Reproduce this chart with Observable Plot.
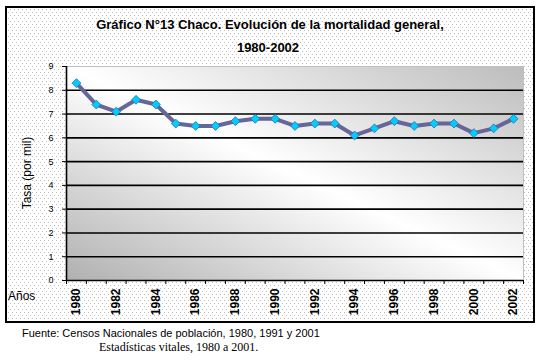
<!DOCTYPE html>
<html><head><meta charset="utf-8">
<script src="https://cdn.jsdelivr.net/npm/d3@7"></script>
<script src="https://cdn.jsdelivr.net/npm/@observablehq/plot@0.6"></script>
<style>body{margin:0;background:#fff}</style>
</head><body><div id="chart"></div>
<script>
const years = [1980,1981,1982,1983,1984,1985,1986,1987,1988,1989,1990,1991,1992,1993,1994,1995,1996,1997,1998,1999,2000,2001,2002];
const rates = [8.3,7.4,7.1,7.6,7.4,6.6,6.5,6.5,6.7,6.8,6.8,6.5,6.6,6.6,6.1,6.4,6.7,6.5,6.6,6.6,6.2,6.4,6.8];
const yTicks = [0,1,2,3,4,5,6,7,8,9];
const xLabelYears = [1980,1982,1984,1986,1988,1990,1992,1994,1996,1998,2000,2002];
const title1 = "Gráfico N°13 Chaco. Evolución de la mortalidad general,";
const title2 = "1980-2002";
const yLabel = "Tasa (por mil)";
const xLabel = "Años";
const source1 = "Fuente: Censos Nacionales de población, 1980, 1991 y 2001";
const source2 = "Estadísticas vitales, 1980 a 2001.";

const data = years.map((y, i) => ({year: y, rate: rates[i]}));
const boundaries = years.map(y => y - 0.5).concat([years[years.length - 1] + 0.5]);

const plot = Plot.plot({
  width: 544, height: 362,
  marginLeft: 66, marginRight: 21, marginTop: 66, marginBottom: 82,
  style: {fontFamily: "Arial, 'Liberation Sans', sans-serif", background: "transparent", overflow: "visible"},
  x: {type: "linear", domain: [boundaries[0], boundaries[boundaries.length - 1]]},
  y: {domain: [0, 9]},
  marks: [
    Plot.frame({fill: "url(#plotGrad)", stroke: "#c0c0c0"}),
    Plot.ruleY(yTicks.slice(1, -1), {stroke: "black", strokeWidth: 1.6}),
    Plot.axisY({ticks: yTicks, tickSize: 4, tickPadding: 9, fontSize: 9, label: null, tickFormat: d => String(d)}),
    Plot.axisX({ticks: boundaries, tickFormat: () => "", tickSize: 4, label: null}),
    Plot.axisX({ticks: xLabelYears, tickFormat: d => String(d), tickSize: 0, tickPadding: 8, tickRotate: -90, fontSize: 12, fontWeight: "bold", label: null}),
    Plot.ruleY([0], {stroke: "black", strokeWidth: 1.6}),
    Plot.ruleX([boundaries[0]], {stroke: "black", strokeWidth: 1.6}),
    Plot.line(data, {x: "year", y: "rate", stroke: "#666699", strokeWidth: 4}),
    Plot.dot(data, {x: "year", y: "rate", symbol: "diamond2", r: 4, fill: "#00ccff", stroke: "#2a6fa8", strokeWidth: 0.8})
  ]
});

const NS = "http://www.w3.org/2000/svg";
const svg = d3.select(plot);
const bg = document.createElementNS(NS, "rect");
plot.insertBefore(bg, plot.firstChild);
d3.select(bg).attr("x", 6).attr("y", 7).attr("width", 528).attr("height", 315)
  .attr("fill", "url(#dots)").attr("stroke", "none");
const defs = document.createElementNS(NS, "defs");
plot.insertBefore(defs, plot.firstChild);
const D = d3.select(defs);
const pat = D.append("pattern").attr("id", "dots").attr("patternUnits", "userSpaceOnUse")
  .attr("width", 4).attr("height", 6);
pat.append("rect").attr("width", 4).attr("height", 6).attr("fill", "#ffffff");
pat.append("rect").attr("x", 0).attr("y", 0).attr("width", 1).attr("height", 1).attr("fill", "#bdbdbd");
pat.append("rect").attr("x", 2).attr("y", 3).attr("width", 1).attr("height", 1).attr("fill", "#bdbdbd");
const grad = D.append("linearGradient").attr("id", "plotGrad")
  .attr("x1", 0).attr("y1", 1).attr("x2", 1).attr("y2", 0);
grad.append("stop").attr("offset", 0).attr("stop-color", "#b0b0b0");
grad.append("stop").attr("offset", 0.5).attr("stop-color", "#ffffff");
grad.append("stop").attr("offset", 1).attr("stop-color", "#bcbcbc");

svg.append("rect").attr("x", 6).attr("y", 7).attr("width", 528).attr("height", 315)
  .attr("fill", "none").attr("stroke", "black").attr("stroke-width", 2);

const t = svg.append("g").attr("font-family", "Arial, 'Liberation Sans', sans-serif")
  .attr("fill", "black").attr("text-anchor", "start");
t.append("text").attr("x", 270).attr("y", 29).attr("text-anchor", "middle")
  .attr("font-size", 13).attr("font-weight", "bold").text(title1);
t.append("text").attr("x", 268).attr("y", 52).attr("text-anchor", "middle")
  .attr("font-size", 13).attr("font-weight", "bold").text(title2);
t.append("text").attr("transform", "translate(31,173) rotate(-90)").attr("text-anchor", "middle")
  .attr("font-size", 12).text(yLabel);
t.append("text").attr("x", 8).attr("y", 300).attr("font-size", 12).text(xLabel);
t.append("text").attr("x", 22).attr("y", 337).attr("font-size", 11).text(source1);
t.append("text").attr("x", 99).attr("y", 351).attr("font-size", 12)
  .attr("font-family", "'Times New Roman', 'Liberation Serif', serif").text(source2);

document.getElementById("chart").appendChild(plot);
</script>
</body></html>
